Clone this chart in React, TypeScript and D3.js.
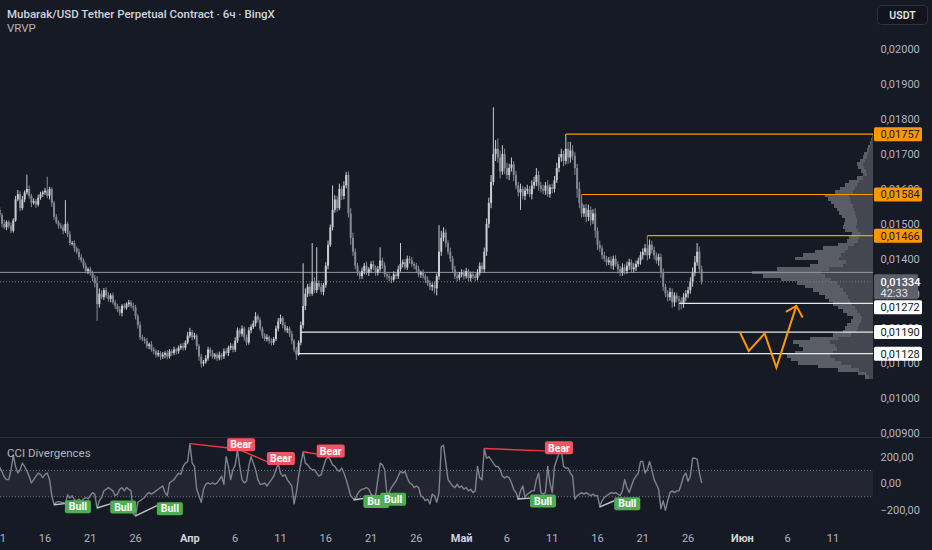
import * as React from "react";
import * as d3 from "d3";

// 6h candles from 2025-03-11 00:00 UTC, prices in 1e-5 USDT
const firstOpen = 1540;
const closes = [
  1525, 1500, 1490, 1505, 1495, 1480, 1510, 1570,
  1585, 1545, 1570, 1590, 1600, 1580, 1560, 1565,
  1555, 1575, 1585, 1590, 1595, 1580, 1600, 1560,
  1520, 1505, 1495, 1490, 1480, 1500, 1470, 1445,
  1445, 1430, 1420, 1405, 1395, 1380, 1365, 1370,
  1360, 1345, 1330, 1270, 1300, 1290, 1310, 1295,
  1285, 1295, 1275, 1265, 1255, 1245, 1265, 1260,
  1270, 1275, 1265, 1260, 1235, 1210, 1175, 1170,
  1165, 1150, 1155, 1140, 1135, 1125, 1130, 1120,
  1125, 1130, 1120, 1135, 1130, 1140, 1135, 1145,
  1150, 1145, 1160, 1180, 1190, 1175, 1180, 1150,
  1120, 1100, 1105, 1115, 1140, 1130, 1120, 1125,
  1115, 1125, 1120, 1135, 1130, 1145, 1150, 1140,
  1165, 1195, 1185, 1200, 1175, 1160, 1195, 1205,
  1215, 1235, 1225, 1200, 1180, 1170, 1175, 1165,
  1160, 1170, 1200, 1220, 1230, 1210, 1195, 1200,
  1185, 1165, 1140, 1125, 1160, 1210, 1265, 1300,
  1320, 1300, 1335, 1310, 1330, 1320, 1305, 1325,
  1380, 1440, 1490, 1540, 1570, 1545, 1600, 1580,
  1610, 1640, 1530, 1460, 1420, 1380, 1360, 1350,
  1365, 1380, 1360, 1370, 1385, 1375, 1360, 1370,
  1395, 1380, 1355, 1350, 1345, 1340, 1355, 1350,
  1370, 1385, 1390, 1375, 1400, 1395, 1385, 1380,
  1370, 1355, 1360, 1350, 1340, 1330, 1320, 1325,
  1315, 1350, 1420, 1460, 1475, 1445, 1420, 1400,
  1370, 1350, 1345, 1355, 1360, 1350, 1365, 1345,
  1355, 1350, 1345, 1360, 1380, 1370, 1420, 1500,
  1560, 1620, 1700, 1715, 1690, 1650, 1700, 1660,
  1640, 1660, 1670, 1640, 1610, 1590, 1600, 1580,
  1595, 1600, 1585, 1610, 1620, 1640, 1610, 1600,
  1595, 1610, 1585, 1605, 1600, 1625, 1660, 1690,
  1700, 1680, 1715, 1690, 1710, 1695, 1660, 1600,
  1560, 1530, 1545, 1520, 1540, 1510, 1530, 1480,
  1440, 1430, 1410, 1400, 1390, 1395, 1380, 1400,
  1385, 1370, 1360, 1375, 1365, 1380, 1390, 1370,
  1375, 1385, 1395, 1410, 1420, 1430, 1410, 1440,
  1425, 1410, 1395, 1405, 1360, 1320, 1300, 1290,
  1305, 1275, 1295, 1285, 1280, 1270, 1290, 1300,
  1310, 1335, 1360, 1390, 1420, 1370, 1334,
];
const wickUp = [
  8, 6, 12, 5, 5, 9, 6, 10,
  12, 8, 10, 6, 41, 10, 6, 8,
  6, 9, 7, 5, 8, 40, 6, 5,
  6, 8, 5, 7, 8, 68, 6, 9,
  6, 8, 5, 9, 8, 6, 9, 5,
  7, 6, 9, 20, 15, 10, 6, 8,
  9, 6, 8, 7, 6, 9, 5, 8,
  5, 7, 6, 9, 8, 6, 10, 7,
  6, 8, 5, 9, 7, 6, 8, 5,
  8, 5, 9, 6, 6, 8, 5, 7,
  7, 9, 6, 10, 12, 6, 8, 5,
  6, 8, 5, 9, 8, 6, 9, 5,
  6, 9, 5, 8, 9, 6, 8, 7,
  10, 8, 6, 9, 6, 8, 9, 7,
  8, 12, 6, 7, 6, 7, 9, 5,
  7, 6, 8, 10, 10, 6, 8, 7,
  6, 8, 5, 7, 6, 10, 122, 15,
  8, 10, 110, 12, 103, 8, 10, 6,
  10, 12, 8, 70, 12, 10, 15, 8,
  12, 9, 10, 15, 15, 10, 8, 6,
  10, 8, 12, 6, 8, 10, 6, 9,
  38, 8, 10, 6, 8, 6, 9, 7,
  10, 60, 8, 9, 9, 8, 10, 6,
  8, 10, 6, 9, 6, 9, 8, 7,
  10, 8, 76, 20, 15, 10, 8, 12,
  8, 10, 9, 7, 10, 8, 9, 6,
  8, 9, 7, 10, 10, 9, 12, 15,
  15, 20, 134, 25, 30, 20, 25, 15,
  15, 12, 20, 10, 12, 10, 15, 8,
  10, 12, 8, 15, 15, 20, 12, 10,
  12, 10, 15, 8, 10, 12, 15, 10,
  15, 10, 42, 20, 25, 15, 10, 12,
  20, 24, 10, 12, 15, 10, 12, 15,
  10, 12, 8, 10, 8, 10, 12, 9,
  10, 8, 9, 12, 9, 12, 10, 8,
  12, 10, 8, 10, 10, 12, 36, 15,
  12, 10, 8, 10, 10, 12, 8, 10,
  12, 10, 9, 8, 8, 10, 12, 10,
  10, 12, 15, 18, 25, 15, 10,
];
const wickDown = [
  6, 10, 5, 8, 8, 7, 5, 4,
  5, 9, 6, 8, 6, 8, 12, 5,
  10, 5, 6, 8, 7, 6, 10, 12,
  8, 6, 9, 5, 10, 6, 8, 7,
  7, 10, 6, 8, 6, 8, 7, 9,
  8, 10, 12, 48, 10, 6, 8, 7,
  8, 10, 6, 9, 7, 8, 10, 6,
  6, 8, 7, 10, 9, 10, 8, 6,
  8, 7, 9, 6, 9, 8, 6, 10,
  7, 10, 8, 6, 8, 6, 9, 7,
  6, 8, 7, 5, 7, 8, 6, 10,
  12, 12, 8, 6, 7, 10, 6, 8,
  8, 6, 10, 7, 6, 9, 7, 8,
  7, 6, 10, 8, 10, 8, 6, 9,
  6, 9, 8, 7, 8, 6, 7, 9,
  9, 7, 6, 8, 7, 9, 6, 8,
  9, 10, 8, 15, 3, 8, 10, 12,
  10, 8, 6, 9, 8, 9, 7, 10,
  8, 10, 6, 9, 8, 10, 6, 12,
  10, 8, 12, 20, 12, 10, 8, 9,
  8, 10, 6, 9, 10, 7, 9, 8,
  7, 9, 8, 10, 9, 10, 6, 8,
  8, 7, 10, 6, 7, 9, 8, 10,
  9, 8, 10, 7, 10, 8, 9, 12,
  15, 20, 10, 12, 10, 12, 8, 9,
  9, 8, 10, 7, 8, 10, 7, 9,
  10, 8, 9, 7, 8, 10, 9, 12,
  12, 15, 10, 20, 15, 20, 10, 18,
  12, 15, 10, 18, 10, 12, 50, 10,
  12, 10, 8, 15, 10, 12, 15, 10,
  10, 12, 8, 10, 12, 10, 8, 12,
  12, 15, 10, 18, 15, 12, 20, 25,
  15, 12, 10, 15, 12, 15, 10, 20,
  15, 10, 12, 8, 10, 8, 9, 12,
  8, 12, 10, 9, 10, 8, 12, 9,
  9, 10, 8, 12, 12, 10, 15, 10,
  10, 12, 9, 15, 15, 12, 10, 12,
  10, 15, 12, 10, 28, 15, 10, 12,
  12, 10, 15, 10, 10, 12, 8,
];
const cciValues = [
  125, 90, 50, 30, 30, 105, 215, 130,
  80, 105, 155, 130, 95, 55, 5, 30,
  55, 80, 70, 45, 70, 80, 30, -90,
  -160, -140, -137, -140, -145, -150, -85, -110,
  -92, -122, -130, -117, -137, -117, -105, -117,
  -92, -68, -80, -185, -130, -105, -55, -43,
  -30, -43, -55, -92, -80, -43, -30, -55,
  -30, -43, -55, -228, -245, -142, -130, -117,
  -105, -80, -68, -80, -68, -55, -43, -30,
  -18, -68, -92, 6, 18, 30, 56, 80,
  70, 130, 155, 167, 303, 155, 130, -43,
  -92, -142, -43, -5, 6, -5, 6, -5,
  6, 30, 56, -5, 204, 130, 30, 105,
  142, 253, 130, 30, 6, 18, 130, 204,
  155, 105, 30, -5, -5, 6, -18, 6,
  30, 56, 105, 155, 80, 56, 68, 30,
  6, -18, -154, -68, 56, 155, 241, 155,
  142, 118, 105, 105, 80, 56, 68, 130,
  180, 204, 180, 142, 130, 105, 93, 118,
  80, 30, -30, -92, -112, -117, -80, -55,
  -43, -38, -30, -43, -80, -92, -87, 30,
  155, 142, 105, -80, -68, -30, -5, 18,
  56, 93, 80, 93, 43, 6, -5, -30,
  -18, -30, -92, -105, -130, -117, -154, -80,
  -92, -142, -68, 278, 290, 155, 30, 6,
  -18, -30, -5, -30, -18, -43, -30, -55,
  -43, -68, -55, 130, 43, 30, 265, 192,
  204, 180, 155, 130, 130, 105, 56, 43,
  56, 43, 6, -43, -68, -117, -55, -18,
  -105, -80, -68, -55, -55, 30, 80, -68,
  -80, -68, 130, 6, -68, 130, 180, 229,
  253, 130, 118, 118, 80, 56, -117, -92,
  -80, -68, -80, -68, -80, -92, -80, -92,
  -92, -171, -130, -105, -92, -80, -68, -73,
  -68, -80, -92, -55, 30, -30, -68, -18,
  30, 56, 80, 167, 167, 80, 105, 167,
  105, 30, -5, -43, -191, -130, -203, -130,
  -68, -55, -68, -55, -55, -5, 56, 80,
  18, 56, 192, 192, 185, 80, 6,
];

// volume profile rows (price step 0.0001, from 0.01056 upward)
const vpStart = 0.01056;
const vpStep = 0.0001;
const vpUp = [
  4, 7, 14, 22, 32, 38, 43, 40, 36, 38, 43, 35, 22, 17, 15, 14, 12, 11, 13, 16,
  18, 21, 23, 25, 27, 30, 33, 36, 42, 48, 52, 44, 30, 27, 34, 32, 28, 25, 19, 15,
  14, 12, 15, 17, 16, 16, 17, 18, 19, 20, 22, 23, 24, 20, 18, 16, 14, 10, 6, 7,
  9, 10, 8, 6, 5, 4, 3, 2, 1, 1,
];
const vpDown = [
  4, 8, 21, 33, 43, 44, 43, 38, 34, 36, 37, 28, 18, 13, 13, 12, 10, 9, 13, 14,
  17, 19, 21, 23, 27, 30, 35, 40, 50, 62, 69, 52, 33, 28, 44, 38, 30, 25, 16, 11,
  10, 9, 13, 13, 13, 12, 14, 16, 17, 19, 20, 22, 24, 18, 15, 12, 10, 6, 4, 5,
  6, 6, 5, 4, 4, 2, 2, 1, 1, 0,
];

// horizontal levels (price, start in days from Mar 11)
const orangeLevels = [0.01757, 0.01584, 0.01466];
const orangeStarts = [62.5, 64.25, 71.5];
const whiteLevels = [0.01272, 0.0119, 0.01128];
const whiteStarts = [75.0, 33.25, 33.0];

// projected path (days from Mar 11, price)
const arrowPath = [[81.75, 0.01188], [82.7, 0.01136], [84.45, 0.01186], [85.75, 0.01088], [87.95, 0.01265]];
const arrowHead = [[86.8, 0.01248], [87.95, 0.01265], [88.65, 0.01232]];

// CCI divergences: [kind, t1, v1, t2, v2]
const divergences: [string, number, number, number, number][] = [
  ["bull", 6.0, -160, 7.2, -152],
  ["bull", 10.75, -185, 12.2, -154],
  ["bull", 15.0, -245, 17.35, -167],
  ["bull", 39.05, -124, 40.15, -113],
  ["bull", 40.9, -99, 42.0, -95],
  ["bull", 57.15, -117, 58.55, -110],
  ["bull", 66.2, -179, 67.85, -130],
  ["bear", 21.0, 303, 25.1, 272],
  ["bear", 26.45, 257, 29.5, 167],
  ["bear", 33.5, 241, 35.0, 224],
  ["bear", 53.45, 266, 60.2, 248],
];

const priceTicks = [0.009, 0.01, 0.011, 0.012, 0.013, 0.014, 0.015, 0.016, 0.017, 0.018, 0.019, 0.02];
const cciTicks = [200, 0, -200];
const dateTicks = [
  "2025-03-11", "2025-03-16", "2025-03-21", "2025-03-26", "2025-04-01", "2025-04-06",
  "2025-04-11", "2025-04-16", "2025-04-21", "2025-04-26", "2025-05-01", "2025-05-06",
  "2025-05-11", "2025-05-16", "2025-05-21", "2025-05-26", "2025-06-01", "2025-06-06",
  "2025-06-11",
];
const monthNames = ["Янв", "Фев", "Мар", "Апр", "Май", "Июн"];
const countdown = "42:33";

const W = 932;
const H = 550;
const PLOT_R = 873;
const MAIN_B = 437;
const CCI_B = 522;
const BG = "#161a25";
const FONT = "Roboto, 'Noto Sans', sans-serif";
const UP = "#c9cbd1";
const DOWN = "#858891";
const ORANGE = "#ff9800";

function drawChart(svgEl: SVGSVGElement) {
  const svg = d3.select(svgEl);
  svg.selectAll("*").remove();
  svg.attr("width", W).attr("height", H).style("display", "block");
  svg.append("rect").attr("width", W).attr("height", H).attr("fill", BG);

  const t0 = Date.UTC(2025, 2, 11);
  const DAY = 86400000;
  const x = d3
    .scaleUtc()
    .domain([new Date(Date.UTC(2025, 2, 16)), new Date(Date.UTC(2025, 5, 11))])
    .range([45, 833]);
  const xt = (t: number) => x(new Date(t0 + t * DAY));
  const y = d3.scaleLinear().domain([0.009, 0.02]).range([433.3, 49.3]);
  const yc = d3.scaleLinear().domain([-200, 200]).range([510, 457.2]);

  const fmtP = (v: number) => d3.format(".5f")(v).replace(".", ",");
  const fmtC = (v: number) => d3.format(".2f")(v).replace(".", ",").replace("-", "−");

  const defs = svg.append("defs");
  defs.append("clipPath").attr("id", "main-clip")
    .append("rect").attr("x", 0).attr("y", 0).attr("width", PLOT_R).attr("height", MAIN_B);
  defs.append("clipPath").attr("id", "cci-clip")
    .append("rect").attr("x", 0).attr("y", MAIN_B + 1).attr("width", PLOT_R).attr("height", CCI_B - MAIN_B - 1);

  const candles = closes.map((c, i) => {
    const o = i === 0 ? firstOpen : closes[i - 1];
    return {
      t: i / 4,
      o: o / 1e5,
      c: c / 1e5,
      h: (Math.max(o, c) + wickUp[i]) / 1e5,
      l: (Math.min(o, c) - wickDown[i]) / 1e5,
    };
  });
  const last = candles[candles.length - 1];

  const main = svg.append("g").attr("clip-path", "url(#main-clip)");

  // volume profile
  const rows = vpUp.map((u, k) => ({ lo: vpStart + k * vpStep, up: u, down: vpDown[k] }));
  const vx = d3.scaleLinear().domain([0, d3.max(rows, (r) => r.up + r.down)!]).range([0, 121]);
  const poc = rows.reduce((a, b) => (b.up + b.down > a.up + a.down ? b : a));
  const vp = main.append("g").attr("shape-rendering", "crispEdges");
  vp.selectAll(".vp-down").data(rows).join("rect")
    .attr("x", (r) => PLOT_R - vx(r.up + r.down))
    .attr("width", (r) => vx(r.down))
    .attr("y", (r) => y(r.lo + vpStep))
    .attr("height", (r) => y(r.lo) - y(r.lo + vpStep))
    .attr("fill", "#5a5d65");
  vp.selectAll(".vp-up").data(rows).join("rect")
    .attr("x", (r) => PLOT_R - vx(r.up))
    .attr("width", (r) => vx(r.up))
    .attr("y", (r) => y(r.lo + vpStep))
    .attr("height", (r) => y(r.lo) - y(r.lo + vpStep))
    .attr("fill", "#44474f");

  // POC and last price lines
  main.append("line")
    .attr("x1", 0).attr("x2", PLOT_R)
    .attr("y1", y(poc.lo + vpStep / 2)).attr("y2", y(poc.lo + vpStep / 2))
    .attr("stroke", "#9598a1").attr("stroke-width", 1);
  main.append("line")
    .attr("x1", 0).attr("x2", PLOT_R)
    .attr("y1", y(last.c)).attr("y2", y(last.c))
    .attr("stroke", "#787b86").attr("stroke-width", 1).attr("stroke-dasharray", "1,2");

  // candles
  const cg = main.append("g");
  cg.selectAll(".wick").data(candles).join("line")
    .attr("x1", (d) => xt(d.t)).attr("x2", (d) => xt(d.t))
    .attr("y1", (d) => y(d.h)).attr("y2", (d) => y(d.l))
    .attr("stroke", (d) => (d.c >= d.o ? UP : DOWN)).attr("stroke-width", 1);
  cg.selectAll(".body").data(candles).join("rect")
    .attr("x", (d) => xt(d.t) - 1).attr("width", 2)
    .attr("y", (d) => y(Math.max(d.o, d.c)))
    .attr("height", (d) => Math.max(1, Math.abs(y(d.o) - y(d.c))))
    .attr("fill", (d) => (d.c >= d.o ? UP : DOWN));

  // levels
  orangeLevels.forEach((p, k) => {
    main.append("line")
      .attr("x1", xt(orangeStarts[k])).attr("x2", PLOT_R)
      .attr("y1", y(p)).attr("y2", y(p))
      .attr("stroke", ORANGE).attr("stroke-width", 1.2);
  });
  whiteLevels.forEach((p, k) => {
    main.append("line")
      .attr("x1", xt(whiteStarts[k])).attr("x2", PLOT_R)
      .attr("y1", y(p)).attr("y2", y(p))
      .attr("stroke", "#e6e8ee").attr("stroke-width", 1.2);
  });

  // projected path
  const pline = d3.line<number[]>().x((d) => xt(d[0])).y((d) => y(d[1]));
  main.append("path").attr("d", pline(arrowPath)).attr("fill", "none")
    .attr("stroke", ORANGE).attr("stroke-width", 2).attr("stroke-linejoin", "miter");
  main.append("path").attr("d", pline(arrowHead)).attr("fill", "none")
    .attr("stroke", ORANGE).attr("stroke-width", 2);

  // titles
  svg.append("text").attr("x", 7).attr("y", 18)
    .attr("font-family", FONT).attr("font-size", 11.5).attr("font-weight", 500)
    .attr("fill", "#d1d4dc")
    .text("Mubarak/USD Tether Perpetual Contract · 6ч · BingX");
  svg.append("text").attr("x", 7).attr("y", 31.5)
    .attr("font-family", FONT).attr("font-size", 11.5)
    .attr("fill", "#b2b5be").text("VRVP");

  // pane separator
  svg.append("line").attr("x1", 0).attr("x2", W).attr("y1", MAIN_B + 0.5).attr("y2", MAIN_B + 0.5)
    .attr("stroke", "#2a2e39").attr("stroke-width", 1);

  // CCI pane
  const cp = svg.append("g").attr("clip-path", "url(#cci-clip)");
  cp.append("rect").attr("x", 0).attr("width", PLOT_R)
    .attr("y", yc(100)).attr("height", yc(-100) - yc(100))
    .attr("fill", "rgba(120,123,134,0.13)");
  [100, -100].forEach((v) => {
    cp.append("line").attr("x1", 0).attr("x2", PLOT_R).attr("y1", yc(v)).attr("y2", yc(v))
      .attr("stroke", "#787b86").attr("stroke-width", 1).attr("stroke-dasharray", "1,2");
  });
  const cciLine = d3.line<number>().x((_, i) => xt(i / 4)).y((v) => yc(v));
  cp.append("path").attr("d", cciLine(cciValues)).attr("fill", "none")
    .attr("stroke", "#80838c").attr("stroke-width", 1.4).attr("stroke-linejoin", "round");

  divergences.forEach(([kind, t1, v1, t2, v2]) => {
    cp.append("line")
      .attr("x1", xt(t1)).attr("y1", yc(v1)).attr("x2", xt(t2)).attr("y2", yc(v2))
      .attr("stroke", kind === "bull" ? "#c3c5cb" : "#f23645").attr("stroke-width", 1.4);
  });
  divergences.forEach(([kind, , , t2, v2]) => {
    const bull = kind === "bull";
    const w = bull ? 26 : 28;
    const cy = yc(v2) + (bull ? 3 : -3);
    const g = svg.append("g");
    g.append("rect").attr("x", xt(t2)).attr("y", cy - 6.5).attr("width", w).attr("height", 13)
      .attr("rx", 2).attr("fill", bull ? "#4caf50" : "#f7525f");
    g.append("text").attr("x", xt(t2) + w / 2).attr("y", cy).attr("dy", "0.35em")
      .attr("text-anchor", "middle").attr("font-family", FONT).attr("font-size", 10.5)
      .attr("font-weight", 700).attr("fill", "#ffffff").text(bull ? "Bull" : "Bear");
  });

  svg.append("text").attr("x", 7).attr("y", 457)
    .attr("font-family", FONT).attr("font-size", 11.5)
    .attr("fill", "#b2b5be").text("CCI Divergences");

  // time axis
  dateTicks.forEach((s) => {
    const d = new Date(s + "T00:00:00Z");
    const isMonth = d.getUTCDate() === 1;
    svg.append("text").attr("x", x(d)).attr("y", 541.5).attr("text-anchor", "middle")
      .attr("font-family", FONT).attr("font-size", 11)
      .attr("font-weight", isMonth ? 700 : 400)
      .attr("fill", isMonth ? "#d1d4dc" : "#b2b5be")
      .text(isMonth ? monthNames[d.getUTCMonth()] : String(d.getUTCDate()));
  });

  // price axis
  const ax = svg.append("g");
  priceTicks.forEach((p) => {
    ax.append("text").attr("x", 880.5).attr("y", y(p)).attr("dy", "0.35em")
      .attr("font-family", FONT).attr("font-size", 11).attr("fill", "#b2b5be").text(fmtP(p));
  });
  cciTicks.forEach((v) => {
    ax.append("text").attr("x", 880.5).attr("y", yc(v)).attr("dy", "0.35em")
      .attr("font-family", FONT).attr("font-size", 11).attr("fill", "#b2b5be").text(fmtC(v));
  });

  const box = (p: number, cy: number, fill: string, color: string) => {
    ax.append("rect").attr("x", 874).attr("y", cy - 7).attr("width", 48).attr("height", 14)
      .attr("rx", 1.5).attr("fill", fill);
    ax.append("text").attr("x", 880.5).attr("y", cy).attr("dy", "0.35em")
      .attr("font-family", FONT).attr("font-size", 11).attr("fill", color).text(fmtP(p));
  };
  orangeLevels.forEach((p) => box(p, y(p), ORANGE, "#131722"));

  // last price label with countdown
  const ly = y(last.c);
  ax.append("rect").attr("x", 874).attr("y", ly - 7.5).attr("width", 44).attr("height", 25)
    .attr("rx", 1.5).attr("fill", "#5d606b");
  ax.append("text").attr("x", 880.5).attr("y", ly).attr("dy", "0.35em")
    .attr("font-family", FONT).attr("font-size", 11).attr("font-weight", 500)
    .attr("fill", "#ffffff").text(fmtP(last.c));
  ax.append("text").attr("x", 880.5).attr("y", ly + 11.5).attr("dy", "0.35em")
    .attr("font-family", FONT).attr("font-size", 11).attr("fill", "#e0e3eb").text(countdown);

  let floor = ly + 17.5 + 1;
  whiteLevels.forEach((p) => {
    const cy = Math.max(y(p), floor + 7);
    box(p, cy, "#ffffff", "#131722");
    floor = cy + 7;
  });

  // currency button
  svg.append("rect").attr("x", 877.5).attr("y", 5.5).attr("width", 50).attr("height", 19)
    .attr("rx", 4).attr("fill", "#11141c").attr("stroke", "#2e323e");
  svg.append("text").attr("x", 902.5).attr("y", 15).attr("dy", "0.35em").attr("text-anchor", "middle")
    .attr("font-family", FONT).attr("font-size", 10.5).attr("font-weight", 600)
    .attr("fill", "#e0e3eb").text("USDT");
}

const App: React.FunctionComponent = () => {
  const svg = React.useRef<SVGSVGElement>(null);
  React.useEffect(() => {
    if (svg.current) drawChart(svg.current);
  }, []);

  return (
    <div id="chart">
      <style>{"body{margin:0;background:#161a25}"}</style>
      <svg ref={svg} />
    </div>
  );
};

export default App;
